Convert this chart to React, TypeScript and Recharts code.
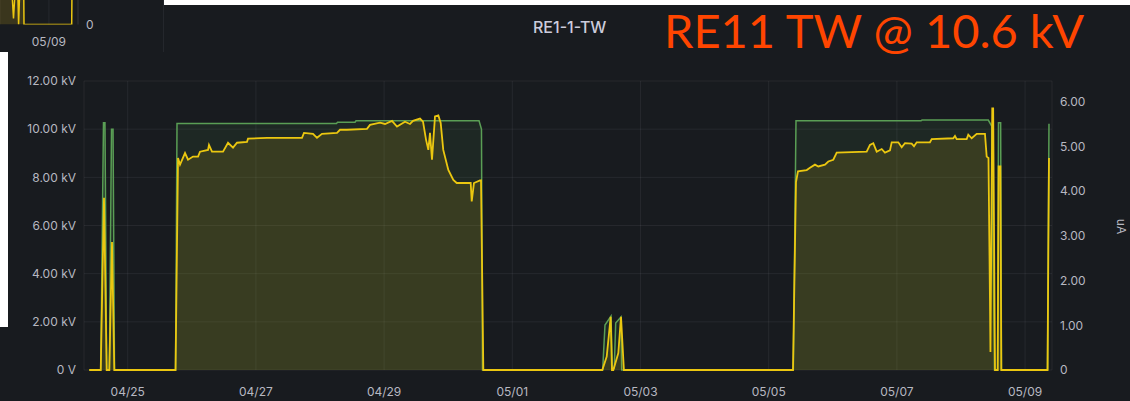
import React from "react";
import {
  ComposedChart,
  Area,
  XAxis,
  YAxis,
  CartesianGrid,
} from "recharts";

// time axis is in days since 04/25 00:00
const voltageDays = [
  -0.6, -0.421, -0.378, -0.355, -0.328, -0.287, -0.253, -0.229, -0.206,
  0.746, 0.769, 3.257, 3.273, 3.546, 3.562, 5.481, 5.519, 5.535,
  7.41, 7.446, 7.54, 7.56, 7.591, 7.613, 7.696, 7.707,
  10.384, 10.426, 12.376, 12.392, 13.426, 13.479, 13.523,
  13.57, 13.585, 13.619, 13.632, 14.35, 14.373,
];
const voltageKv = [
  0, 0, 10.27, 10.27, 0, 0, 10.0, 10.0, 0,
  0, 10.24, 10.24, 10.29, 10.29, 10.35, 10.35, 10.0, 0,
  0, 1.87, 2.24, 0.08, 0.08, 1.95, 2.2, 0,
  0, 10.35, 10.35, 10.38, 10.38, 10.13, 0,
  0, 10.27, 10.27, 0, 0, 10.22,
];

const currentDays = [
  -0.6, -0.421, -0.37, -0.328, -0.287, -0.245, -0.209,
  0.746, 0.785, 0.816, 0.894, 0.941, 1.019, 1.097, 1.128, 1.253, 1.268,
  1.315, 1.487, 1.565, 1.643, 1.705, 1.861, 1.877, 2.173, 2.719, 2.75,
  2.891, 2.953, 3.031, 3.265, 3.312, 3.421, 3.733, 3.78, 3.936, 4.014,
  4.123, 4.201, 4.326, 4.404, 4.451, 4.56, 4.607, 4.654, 4.69, 4.716,
  4.747, 4.794, 4.846, 4.883, 4.923, 5.002, 5.08, 5.133, 5.351, 5.367,
  5.402, 5.496, 5.512, 5.548,
  7.404, 7.473, 7.535, 7.555, 7.576, 7.654, 7.696, 7.741,
  10.379, 10.426, 10.457, 10.593, 10.644, 10.722, 10.774, 10.878, 10.93,
  11.008, 11.061, 11.529, 11.58, 11.632, 11.685, 11.763, 11.814, 11.892,
  11.919, 12.022, 12.075, 12.126, 12.231, 12.267, 12.309, 12.516, 12.543,
  12.88, 12.906, 12.933, 13.089, 13.114, 13.167, 13.245, 13.374, 13.401,
  13.429, 13.452, 13.46, 13.488, 13.502, 13.531, 13.573, 13.587, 13.615,
  13.629, 14.35, 14.373,
];
const currentUa = [
  0, 0, 3.85, 0, 0, 2.86, 0,
  0, 4.74, 4.59, 4.85, 4.7, 4.77, 4.77, 4.88, 4.92, 5.03,
  4.88, 4.88, 5.08, 4.97, 5.08, 5.1, 5.17, 5.19, 5.19, 5.3,
  5.28, 5.19, 5.28, 5.3, 5.37, 5.37, 5.39, 5.48, 5.53, 5.5,
  5.57, 5.44, 5.55, 5.5, 5.57, 5.62, 5.55, 5.15, 4.92, 5.3,
  4.7, 5.67, 5.69, 5.52, 4.92, 4.47, 4.25, 4.18, 4.18, 3.77,
  4.18, 4.24, 4.24, 0,
  0, 0.3, 1.19, 0, 0, 0.38, 1.19, 0,
  0, 4.2, 4.44, 4.47, 4.52, 4.59, 4.55, 4.59, 4.66,
  4.7, 4.86, 4.88, 5.03, 5.07, 4.88, 4.94, 4.86, 4.91,
  5.09, 5.09, 4.98, 5.07, 5.06, 5.0, 5.09, 5.09, 5.16,
  5.18, 5.23, 5.16, 5.16, 5.26, 5.18, 5.28, 5.28, 4.77,
  4.74, 1.6, 0.4, 5.85, 5.85, 0, 0, 4.55, 4.55,
  0, 0, 4.74,
];

const dayTicks = [0, 2, 4, 6, 8, 10, 12, 14];
const dayLabels = ["04/25", "04/27", "04/29", "05/01", "05/03", "05/05", "05/07", "05/09"];
const kvTicks = [0, 2, 4, 6, 8, 10, 12];
const uaTicks = [0, 1, 2, 3, 4, 5, 6];

// fragment of the neighbouring panel, hours since 05/09 00:00
const snippetHours = [-16.3, -12.4, -11.8, -11.2, -10.4, -10.1, -9.7, -8.4, -8.3, 7.6, 7.7];
const snippetValues = [1.5, 1.5, 0.25, 1.5, 1.5, 0, 1.5, 1.5, 0, 0, 1.5];

type Row = { t: number; kv?: number; ua?: number };

function buildRows(): Row[] {
  const map = new Map<number, Row>();
  voltageDays.forEach((t, i) => {
    const r = map.get(t) ?? { t };
    r.kv = voltageKv[i];
    map.set(t, r);
  });
  currentDays.forEach((t, i) => {
    const r = map.get(t) ?? { t };
    r.ua = currentUa[i];
    map.set(t, r);
  });
  return Array.from(map.values()).sort((a, b) => a.t - b.t);
}

const rows = buildRows();
const snippetRows = snippetHours.map((h, i) => ({ h, v: snippetValues[i] }));

const BG = "#181b1f";
const TEXT = "#b7b8c1";
const GRID = "rgba(204,204,220,0.08)";
const GREEN = "#5A9E55";
const YELLOW = "#EBC710";
const tickStyle = { fontSize: 12, fill: TEXT, fontFamily: "Inter, Roboto, sans-serif" };

const kvFormat = (v: number) => (v === 0 ? "0 V" : `${v.toFixed(2)} kV`);
const uaFormat = (v: number) => (v === 0 ? "0" : v.toFixed(2));
const dayFormat = (v: number) => dayLabels[dayTicks.indexOf(v)] ?? "";

function Snippet() {
  return (
    <div style={{ position: "absolute", left: 0, top: 0, width: 163, height: 52, background: BG, borderRight: "1px solid #24272c" }}>
      <ComposedChart width={163} height={52} data={snippetRows} margin={{ top: 0, right: 45, bottom: 0, left: 0 }}>
        <CartesianGrid stroke={GRID} horizontal={false} />
        <XAxis
          dataKey="h"
          type="number"
          domain={[-16.3, 9.7]}
          ticks={[0]}
          tickFormatter={() => "05/09"}
          tick={tickStyle}
          tickLine={false}
          axisLine={false}
          height={27.5}
          tickMargin={7}
        />
        <YAxis
          orientation="right"
          domain={[0, 1]}
          allowDataOverflow
          ticks={[0]}
          tick={tickStyle}
          tickLine={false}
          axisLine={{ stroke: GRID }}
          width={40}
        />
        <Area
          type="linear"
          dataKey="v"
          stroke={YELLOW}
          strokeWidth={1.5}
          fill={YELLOW}
          fillOpacity={0.16}
          isAnimationActive={false}
          dot={false}
        />
      </ComposedChart>
    </div>
  );
}

export default function App() {
  return (
    <div style={{ position: "absolute", left: 0, top: 0, width: 1130, height: 401, background: BG, overflow: "hidden", fontFamily: "Inter, Roboto, sans-serif" }}>
      <div style={{ position: "absolute", left: 163, top: 0, width: 967, height: 5, background: "#ffffff" }} />
      <div style={{ position: "absolute", left: 0, top: 52, width: 8, height: 275, background: "#ffffff" }} />

      <ComposedChart
        width={1130}
        height={401}
        data={rows}
        margin={{ top: 81, right: 28, bottom: 0, left: 0 }}
        style={{ position: "absolute", left: 0, top: 0 }}
      >
        <CartesianGrid stroke={GRID} yAxisId="kv" />
        <XAxis
          dataKey="t"
          type="number"
          domain={[-0.682, 14.42]}
          allowDataOverflow
          ticks={dayTicks}
          tickFormatter={dayFormat}
          tick={tickStyle}
          tickLine={false}
          axisLine={false}
          height={31}
          tickMargin={11}
        />
        <YAxis
          yAxisId="kv"
          domain={[0, 12]}
          ticks={kvTicks}
          tickFormatter={kvFormat}
          tick={tickStyle}
          tickLine={false}
          axisLine={false}
          width={84}
        />
        <YAxis
          yAxisId="ua"
          orientation="right"
          domain={[0, 6.46]}
          ticks={uaTicks}
          tickFormatter={uaFormat}
          tick={tickStyle}
          tickLine={false}
          axisLine={false}
          width={50}
        />
        <Area
          yAxisId="kv"
          type="linear"
          dataKey="kv"
          stroke={GREEN}
          strokeWidth={1.5}
          fill={GREEN}
          fillOpacity={0.1}
          connectNulls
          dot={false}
          activeDot={false}
          isAnimationActive={false}
        />
        <Area
          yAxisId="ua"
          type="linear"
          dataKey="ua"
          stroke={YELLOW}
          strokeWidth={1.8}
          fill={YELLOW}
          fillOpacity={0.13}
          connectNulls
          dot={false}
          activeDot={false}
          isAnimationActive={false}
        />
      </ComposedChart>

      <Snippet />

      <div style={{ position: "absolute", left: 533, top: 17, fontSize: 16, fontWeight: 500, color: "#ccccdc", whiteSpace: "nowrap", lineHeight: "20px" }}>
        RE1-1-TW
      </div>
      <div style={{ position: "absolute", left: 664, top: 2, fontSize: 47, fontFamily: "Lato, sans-serif", color: "#FF4500", whiteSpace: "nowrap", lineHeight: "56px" }}>
        RE11 TW @ 10.6 kV
      </div>
      <div style={{ position: "absolute", left: 1114, top: 219, fontSize: 12, color: TEXT, transform: "rotate(90deg)", transformOrigin: "center", whiteSpace: "nowrap" }}>
        uA
      </div>
    </div>
  );
}
